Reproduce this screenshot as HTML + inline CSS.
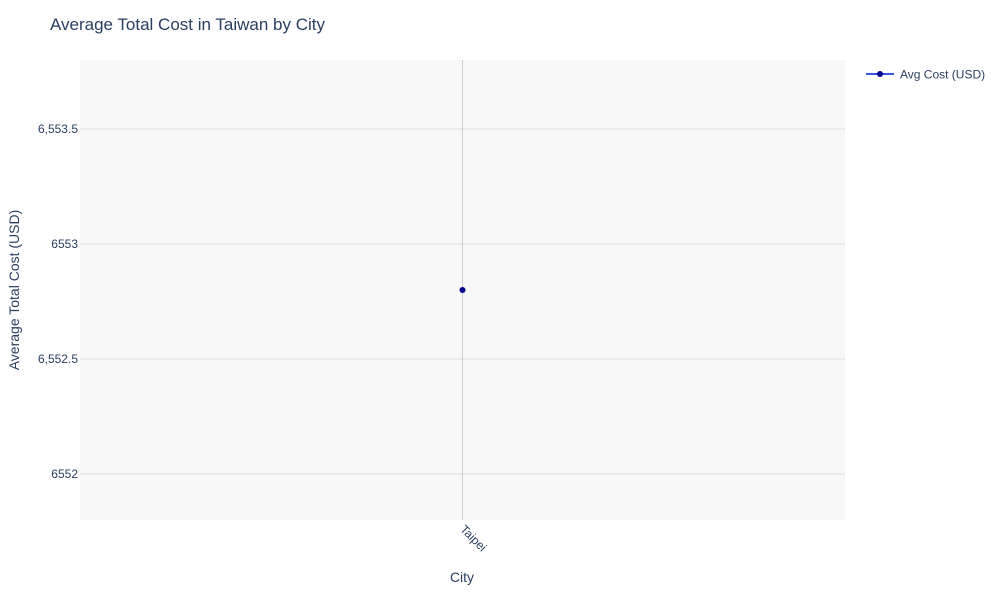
<!DOCTYPE html>
<html><head><meta charset="utf-8"><style>
body{margin:0;background:#fff;font-family:"Liberation Sans",sans-serif;}
</style></head><body>
<svg id="chart" width="1000" height="600" xmlns="http://www.w3.org/2000/svg" font-family="Liberation Sans, sans-serif">
<rect width="1000" height="600" fill="#fff"/>
<text x="50" y="30" font-size="17" fill="#2a3f5f">Average Total Cost in Taiwan by City</text>
<rect x="80" y="60" width="765" height="460" fill="#f8f8f8"/>
<g id="grid"></g>
<g id="marks"></g>
<text x="462" y="582" font-size="14" fill="#2a3f5f" text-anchor="middle">City</text>
<text transform="translate(19,290) rotate(-90)" font-size="14" fill="#2a3f5f" text-anchor="middle">Average Total Cost (USD)</text>
<g>
<line x1="866" y1="74" x2="894" y2="74" stroke="#3a56e8" stroke-width="2"/>
<circle cx="880" cy="74" r="3" fill="#00008b"/>
<text x="900" y="78.5" font-size="12" fill="#2a3f5f">Avg Cost (USD)</text>
</g>
</svg>
<script>
const categories = ["Taipei"];
const values = [6552.8];
const yTicks = [6552, 6552.5, 6553, 6553.5];
const yTickLabels = ["6552", "6,552.5", "6553", "6,553.5"];
const ns = "http://www.w3.org/2000/svg";
const L=80,R=845,T=60,B=520,yMin=6551.8,yMax=6553.8;
function y(v){return B-(v-yMin)/(yMax-yMin)*(B-T);}
function x(i){const w=(R-L)/categories.length;return L+w*(i+0.5);}
function mk(tag,attrs,parent){const e=document.createElementNS(ns,tag);for(const k in attrs)e.setAttribute(k,attrs[k]);parent.appendChild(e);return e;}
const grid=document.getElementById('grid'), marks=document.getElementById('marks');
yTicks.forEach((t,i)=>{
  const g=mk('line',{x1:L,x2:R,y1:y(t),y2:y(t),stroke:'#dedede','stroke-width':1},grid);
  
  
  const tx=mk('text',{x:L-2,y:y(t)+4,'font-size':12,fill:'#2a3f5f','text-anchor':'end'},grid);
  tx.textContent=yTickLabels[i];
  
  
});
categories.forEach((c,i)=>{
  const g=mk('line',{x1:x(i),x2:x(i),y1:T,y2:B,stroke:'#d0d0d0','stroke-width':1},grid);
  
  
  const tx=mk('text',{x:0,y:0,'font-size':12,fill:'#2a3f5f',transform:`translate(${x(i)-3},${B+10}) rotate(45)`},grid);
  tx.textContent=c;
  
  
});
if(values.length>1){
  const p=mk('polyline',{points:values.map((v,i)=>x(i)+','+y(v)).join(' '),fill:'none',stroke:'#3a56e8','stroke-width':2},marks);
  
  
}
values.forEach((v,i)=>{
  const c=mk('circle',{cx:x(i),cy:y(v),r:3,fill:'#00008b'},marks);
  
  
});
</script>
</body></html>
